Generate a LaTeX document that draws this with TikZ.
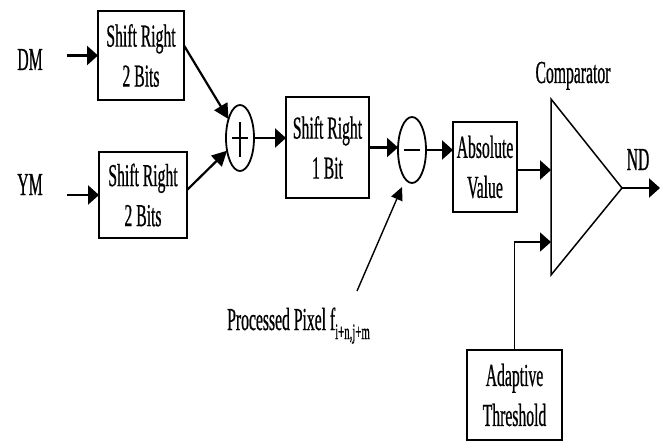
\documentclass[tikz,border=0pt]{standalone}
\usepackage{fontspec}
\setmainfont{Liberation Serif}[FakeStretch=0.49,FakeBold=0.6]
\usetikzlibrary{shapes.geometric,arrows.meta,calc}
\begin{document}
\begin{tikzpicture}[x=1pt,y=-1pt,
 txt/.style={font=\fontsize{32}{40}\selectfont},
 blk/.style={draw,line width=1.9pt,inner sep=0pt,outer sep=0pt,align=center,txt},
 lbl/.style={inner sep=0pt,txt},
 sumnode/.style={draw,ellipse,line width=1.8pt,minimum width=28pt,minimum height=66pt,inner sep=0pt,outer sep=0pt},
 arr/.style={line width=2.4pt,-{Triangle[length=11pt,width=19pt]}},
 darr/.style={line width=2.2pt,-{Triangle[length=15pt,width=15pt]}},
]
\useasboundingbox (0,0) rectangle (666,441);
% blocks
\node[blk,minimum width=86pt,minimum height=89pt] (b1) at (141,55.5) {Shift Right\\2 Bits};
\node[blk,minimum width=88pt,minimum height=86pt] (b2) at (143,195) {Shift Right\\2 Bits};
\node[blk,minimum width=83pt,minimum height=101pt] (b3) at (327.5,147.5) {Shift Right\\1 Bit};
\node[blk,minimum width=64pt,minimum height=90pt] (b4) at (485,167) {Absolute\\Value};
\node[blk,minimum width=95pt,minimum height=90pt] (b5) at (514.5,395) {Adaptive\\Threshold};
% adders
\node[sumnode] (plus) at (240,138) {};
\node[sumnode] (minus) at (412,150) {};
\draw[line width=1.6pt] (plus.center) +(-8,0) -- +(8,0);
\draw[line width=1.6pt] (plus.center) +(0,-16) -- +(0,19);
\draw[line width=1.8pt] (minus.center) +(-8,0) -- +(8,0);
% labels
\node[lbl,anchor=base] (dm) at (30,70) {DM};
\node[lbl,anchor=base] (ym) at (30,195) {YM};
\node[lbl,anchor=base] (cmp) at (573,83) {Comparator};
\node[lbl,anchor=base] (nd) at (638,170) {ND};
\node[lbl,anchor=base west] (pp) at (227,330) {Processed Pixel f\raisebox{-9pt}{\fontsize{22}{22}\selectfont i+n,j+m}};
% comparator
\coordinate (ctop) at (551,99);
\coordinate (cbot) at (551,275);
\coordinate (capex) at (622,188);
\coordinate (cin1) at (551,170);
\coordinate (cin2) at (551,242);
\coordinate (ndtip) at (660,188);
\draw[line width=1.5pt,line join=miter] (ctop) -- (capex) -- (cbot) -- cycle;
% connectors
\draw[arr,shorten <=24pt] (dm.east |- b1.west) -- (b1.west);
\draw[arr,shorten <=24pt] (ym.east |- b2.west) -- (b2.west);
\draw[darr] ([yshift=10pt]b1.east) -- (plus);
\draw[darr] ([yshift=5pt]b2.east) -- (plus);
\draw[arr] (plus.east) -- (plus.east -| b3.west);
\draw[arr] (b3.east) -- (b3.east -| minus.west);
\draw[arr] (minus.east) -- (minus.east -| b4.west);
\draw[arr] (b4.east |- cin1) -- (cin1);
\draw[arr] (capex) -- (ndtip);
\draw[line width=1.8pt,-{Triangle[length=11pt,width=19pt]}] (b5.north) |- (cin2);
\coordinate (pps) at (357,291);
\coordinate (ppt) at (402,187);
\draw[line width=1.4pt,-{Triangle[length=13pt,width=12pt]}] (pps) -- (ppt);
\end{tikzpicture}
\end{document}
